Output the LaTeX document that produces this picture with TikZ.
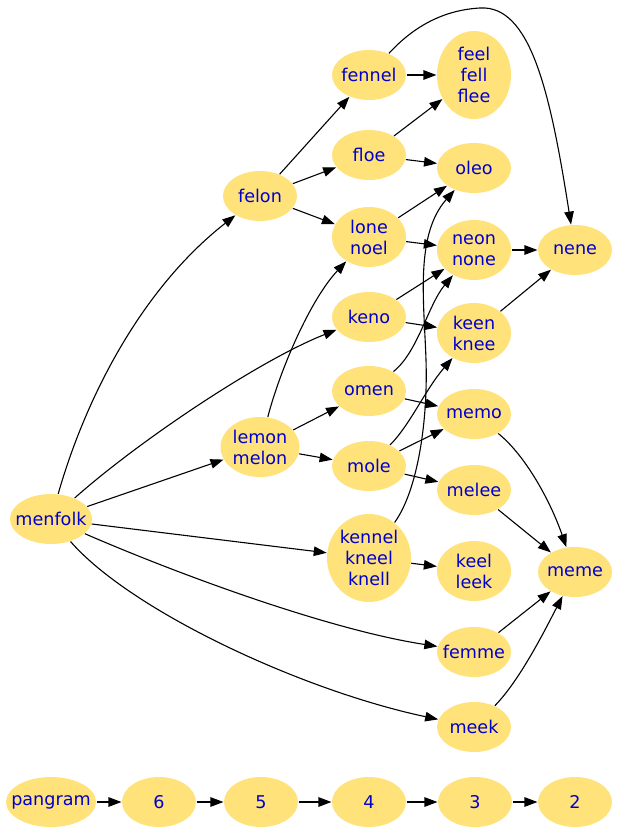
\documentclass[tikz,border=0pt]{standalone}
\usepackage{fontspec}
\newfontfamily\wordfont{DejaVu Sans}
\usetikzlibrary{shapes.geometric,arrows.meta}
\definecolor{wordfill}{RGB}{255,226,122}
\definecolor{wordblue}{RGB}{0,0,205}
\begin{document}
\begin{tikzpicture}[x=1pt,y=-1pt,
    word/.style={ellipse,fill=wordfill,text=wordblue,inner sep=-12pt,
      minimum width=74pt,minimum height=50pt,align=center,
      font=\wordfont\fontsize{17.6}{21}\selectfont},
    two/.style={minimum height=60pt},
    three/.style={minimum height=88pt},
    >={Triangle[length=13pt,width=9.5pt]},line width=1.1pt]
  \useasboundingbox (0,0) rectangle (616,832);
  % words
  \node[word,minimum width=82pt] (menfolk) at (51,519) {menfolk};
  \node[word] (felon) at (260,196) {felon};
  \node[word,two,minimum width=79pt] (lemon) at (260,447) {lemon\\melon};
  \node[word] (fennel) at (369,75) {fennel};
  \node[word] (floe) at (369,155) {floe};
  \node[word,two] (lone) at (369,237) {lone\\noel};
  \node[word] (keno) at (369,317) {keno};
  \node[word] (omen) at (369,391) {omen};
  \node[word] (mole) at (369,466) {mole};
  \node[word,three,minimum width=84pt] (kennel) at (369,558) {kennel\\kneel\\knell};
  \node[word,three] (feel) at (474,75) {feel\\fell\\flee};
  \node[word] (oleo) at (474,168) {oleo};
  \node[word,two] (neon) at (474,250) {neon\\none};
  \node[word,two] (keen) at (474,333) {keen\\knee};
  \node[word] (memo) at (474,414) {memo};
  \node[word] (melee) at (474,490) {melee};
  \node[word,two] (keel) at (474,571) {keel\\leek};
  \node[word] (femme) at (474,652) {femme};
  \node[word] (meek) at (474,727) {meek};
  \node[word] (nene) at (575,250) {nene};
  \node[word] (meme) at (575,572) {meme};
  % ranks
  \node[word,minimum width=90pt] (pangram) at (51,802) {pangram};
  \node[word] (r6) at (159,802) {6};
  \node[word] (r5) at (261,802) {5};
  \node[word] (r4) at (369,802) {4};
  \node[word] (r3) at (475,802) {3};
  \node[word] (r2) at (575,802) {2};
  \draw[->] (pangram) -- (r6);
  \draw[->] (r6) -- (r5);
  \draw[->] (r5) -- (r4);
  \draw[->] (r4) -- (r3);
  \draw[->] (r3) -- (r2);
  % from menfolk
  \draw[->] (menfolk) .. controls (85,400) and (140,290) .. (felon);
  \draw[->] (menfolk) .. controls (140,440) and (260,360) .. (keno);
  \draw[->] (menfolk) -- (lemon);
  \draw[->] (menfolk) -- (kennel);
  \draw[->] (menfolk) .. controls (180,575) and (330,630) .. (femme);
  \draw[->] (menfolk) .. controls (130,610) and (300,690) .. (meek);
  % middle
  \draw[->] (felon) -- (fennel);
  \draw[->] (felon) -- (floe);
  \draw[->] (felon) -- (lone);
  \draw[->] (lemon) .. controls (280,370) and (310,300) .. (lone);
  \draw[->] (lemon) -- (omen);
  \draw[->] (lemon) -- (mole);
  \draw[->] (fennel) -- (feel);
  \draw[->] (fennel) .. controls (415,25) and (445,10) .. (480,8)
    .. controls (530,5) and (550,90) .. (nene);
  \draw[->] (floe) -- (feel);
  \draw[->] (floe) -- (oleo);
  \draw[->] (lone) -- (oleo);
  \draw[->] (lone) -- (neon);
  \draw[->] (keno) -- (neon);
  \draw[->] (keno) -- (keen);
  \draw[->] (omen) .. controls (418,352) and (428,305) .. (neon);
  \draw[->] (omen) -- (memo);
  \draw[->] (mole) .. controls (410,425) and (425,390) .. (keen);
  \draw[->] (mole) -- (memo);
  \draw[->] (mole) -- (melee);
  \draw[->] (kennel) .. controls (418,490) and (428,420) .. (426,360)
    .. controls (424,300) and (415,235) .. (oleo);
  \draw[->] (kennel) -- (keel);
  % right
  \draw[->] (neon) -- (nene);
  \draw[->] (keen) -- (nene);
  \draw[->] (memo) .. controls (525,455) and (550,500) .. (meme);
  \draw[->] (melee) -- (meme);
  \draw[->] (femme) -- (meme);
  \draw[->] (meek) .. controls (520,680) and (545,630) .. (meme);
\end{tikzpicture}
\end{document}
